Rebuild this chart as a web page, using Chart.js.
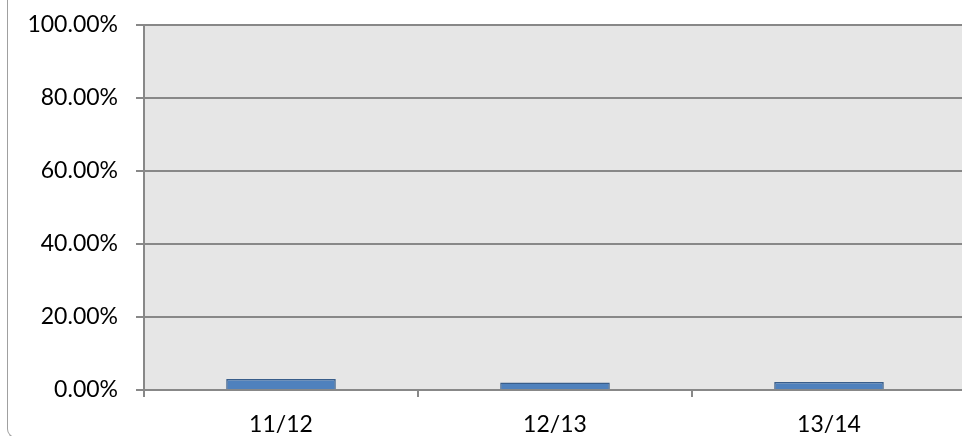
<!DOCTYPE html>
<html>
<head>
<meta charset="utf-8">
<script src="https://cdn.jsdelivr.net/npm/chart.js@4/dist/chart.umd.min.js"></script>
<style>
html,body{margin:0;padding:0;background:#fff;overflow:hidden;width:962px;height:436px;}
#frame{position:absolute;left:7px;top:-20px;width:1100px;height:458px;border-left:1.5px solid #a0a0a0;border-bottom:1.5px solid #a0a0a0;border-bottom-left-radius:9px;box-sizing:border-box;}
#wrap{position:absolute;left:0;top:0;width:970px;height:436px;}
</style>
</head>
<body>
<div id="frame"></div>
<div id="wrap"><canvas id="c" width="970" height="436"></canvas></div>
<script>
const categories = ["11/12", "12/13", "13/14"];
const values = [0.030, 0.0205, 0.022];
const yTicks = [0, 0.2, 0.4, 0.6, 0.8, 1.0];

const bgPlugin = {
  id: 'plotBg',
  beforeDraw(chart) {
    const {ctx, chartArea: a} = chart;
    ctx.save();
    ctx.fillStyle = '#e6e6e6';
    ctx.fillRect(a.left, a.top, a.right - a.left, a.bottom - a.top);
    ctx.restore();
  }
};

new Chart(document.getElementById('c'), {
  type: 'bar',
  data: {
    labels: categories,
    datasets: [{
      data: values,
      backgroundColor: '#4f81bd',
      borderColor: '#385d8a',
      borderWidth: 1.5,
      barPercentage: 0.4,
      categoryPercentage: 1.0
    }]
  },
  plugins: [bgPlugin],
  options: {
    responsive: false,
    animation: false,
    layout: {padding: {left: 0, right: 4, top: 25, bottom: 0}},
    plugins: {legend: {display: false}, tooltip: {enabled: false}},
    scales: {
      x: {
        offset: true,
        grid: {offset: true, drawOnChartArea: false, drawTicks: true, tickLength: 7, color: '#888', lineWidth: 2},
        border: {display: true, color: '#888', width: 2},
        ticks: {color: '#000', font: {family: 'Lato', size: 23}, padding: 14, maxRotation: 0},
        afterFit(scale) { scale.height = 46; scale.paddingLeft = 0; scale.paddingRight = 0; }
      },
      y: {
        min: 0, max: 1,
        afterBuildTicks(scale) { scale.ticks = yTicks.map(v => ({value: v})); },
        grid: {color: '#888', lineWidth: 2, drawTicks: true, tickLength: 8},
        border: {display: true, color: '#888', width: 2},
        ticks: {color: '#000', font: {family: 'Lato', size: 23}, padding: 18,
          callback: v => (v * 100).toFixed(2) + '%'},
        afterFit(scale) { scale.width = 144; scale.paddingTop = 0; scale.paddingBottom = 0; }
      }
    }
  }
});
</script>
</body>
</html>
